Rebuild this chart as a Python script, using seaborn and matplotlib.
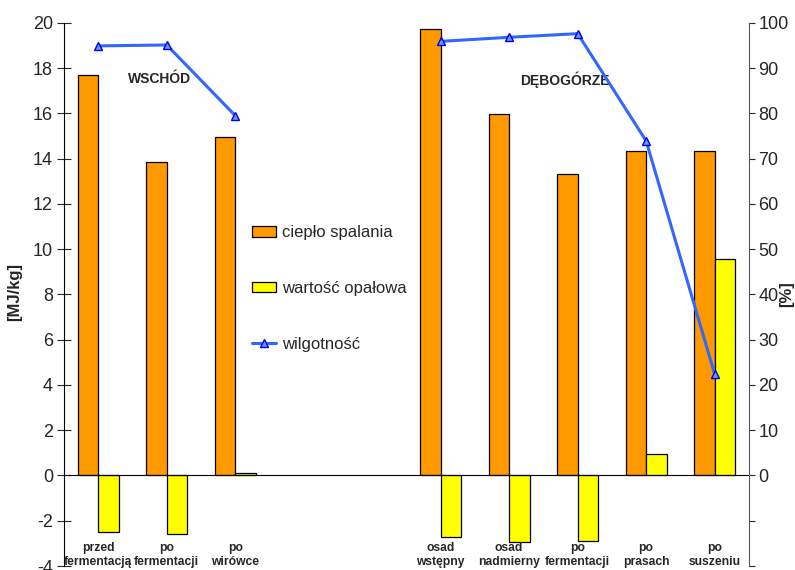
import numpy as np
import pandas as pd
import seaborn as sns
import matplotlib.pyplot as plt

# dane z wykresu (10 pozycji, 2 puste miedzy grupami)
slots = ["przed\nfermentacją", "po\nfermentacji", "po\nwirówce", "", " ",
         "osad\nwstępny", "osad\nnadmierny", "po\nfermentacji ", "po\nprasach", "po\nsuszeniu"]
cieplo = [17.68, 13.86, 14.94, np.nan, np.nan, 19.73, 15.98, 13.31, 14.35, 14.35]
wartosc = [-2.50, -2.59, 0.12, np.nan, np.nan, -2.74, -2.96, -2.91, 0.93, 9.57]
wilgotnosc = [94.9, 95.1, 79.5, np.nan, np.nan, 95.9, 96.8, 97.6, 73.9, 22.4]
groups = ["WSCHÓD", "DĘBOGÓRZE"]
group_pos = [0.9, 6.81]

sns.set_style("white")
plt.rcParams['font.family'] = ['Liberation Sans', 'DejaVu Sans']
plt.rcParams['axes.unicode_minus'] = False

df = pd.DataFrame({
    'slot': slots * 2,
    'val': cieplo + wartosc,
    'seria': ['ciepło spalania'] * len(slots) + ['wartość opałowa'] * len(slots),
})

fig = plt.figure(figsize=(7.95, 5.7), dpi=100)
ax = fig.add_axes([0.0805, 0.007, 0.8615, 0.953])

sns.barplot(data=df, x='slot', y='val', hue='seria', order=slots,
            palette=['#FF9900', '#FFFF00'], saturation=1, edgecolor='black',
            linewidth=0.9, width=0.6, dodge=True, ax=ax, legend=True)

ax.set_xlim(-0.5, 9.5)
ax.set_ylim(-4, 20)
ax.set_yticks(range(-4, 21, 2))
ax.tick_params(axis='y', direction='inout', length=10, labelsize=13, width=0.8, pad=3)
ax.set_xticks(np.arange(0.5, 9, 1))
ax.set_xticklabels([])
ax.tick_params(axis='x', direction='inout', length=8, width=0.8)
ax.spines['bottom'].set_position(('data', 0))
ax.spines['top'].set_visible(False)
ax.spines['right'].set_visible(False)
for s in ['left', 'bottom']:
    ax.spines[s].set_linewidth(0.8)
    ax.spines[s].set_color('black')
ax.set_xlabel('')
ax.set_ylabel('[MJ/kg]', fontweight='bold', fontsize=12)
ax.yaxis.set_label_coords(-0.061, 0.504)

# opisy kategorii na dole
for i, lab in enumerate(slots):
    if lab.strip():
        ax.text(i, -2.95, lab.strip(), ha='center', va='top', fontsize=8.7,
                fontweight='bold', linespacing=1.15)

for g, x in zip(groups, group_pos):
    ax.text(x, 17.5, g, ha='center', va='center', fontsize=10, fontweight='bold')

# prawa os - wilgotnosc
ax2 = ax.twinx()
ax2.plot(np.arange(len(slots)), wilgotnosc, color='#3366FF', lw=2.2,
         marker='^', ms=5.5, mfc='#6699FF', mec='#0000EE', label='wilgotność')
ax2.set_ylim(-20, 100)
ax2.set_yticks(range(-20, 101, 10))
ax2.set_yticklabels([''] * 2 + [str(v) for v in range(0, 101, 10)])
ax2.tick_params(axis='y', direction='out', length=4, labelsize=13, width=0.8, pad=3)
for s in ['top', 'left', 'bottom']:
    ax2.spines[s].set_visible(False)
ax2.spines['right'].set_color('#555555')
ax2.spines['right'].set_linewidth(0.8)
ax2.set_ylabel('[%]', fontweight='bold', fontsize=12)
ax2.yaxis.set_label_coords(1.0438, 0.50)

h1, l1 = ax.get_legend_handles_labels()
h2, l2 = ax2.get_legend_handles_labels()
ax.get_legend().remove()
ax2.legend(h1 + h2, l1 + l2, loc='center', bbox_to_anchor=(0.387, 0.511),
           frameon=False, fontsize=12, labelspacing=2.45, handlelength=1.45,
           handleheight=0.6, handletextpad=0.35)

plt.savefig('out.png', dpi=100)
